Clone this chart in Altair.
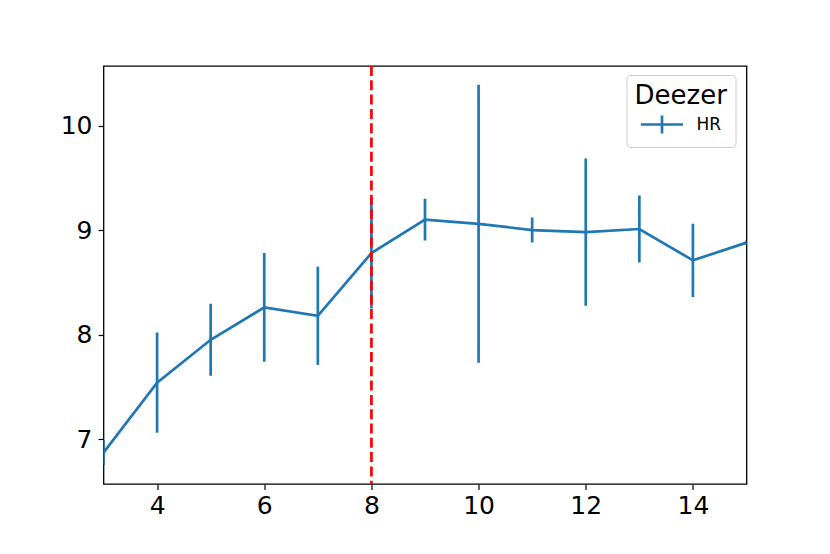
import altair as alt
import pandas as pd

# values
k_values = [3, 4, 5, 6, 7, 8, 9, 10, 11, 12, 13, 14, 15]
hr_mean = [6.87, 7.54, 7.95, 8.26, 8.18, 8.78, 9.10, 9.06, 9.00, 8.98, 9.01, 8.71, 8.88]
hr_err = [0.12, 0.48, 0.345, 0.52, 0.47, 0.53, 0.20, 1.33, 0.12, 0.705, 0.32, 0.35, 0.02]
series_name = ["HR"] * len(k_values)
x_ticks = [4, 6, 8, 10, 12, 14]
y_ticks = [7, 8, 9, 10]
cutoff = [8]

df = pd.DataFrame({"k": k_values, "hr": hr_mean, "err": hr_err, "series": series_name})
df["lo"] = df["hr"] - df["err"]
df["hi"] = df["hr"] + df["err"]

BLUE = "#1f77b4"
xscale = alt.Scale(domain=[3, 15], nice=False, zero=False)
yscale = alt.Scale(domain=[6.57, 10.57], nice=False, zero=False)
color = alt.Color(
    "series:N",
    scale=alt.Scale(domain=["HR"], range=[BLUE]),
    legend=alt.Legend(
        title="Deezer",
        orient="none",
        legendX=523,
        legendY=9,
        padding=8,
        titlePadding=7,
        titleLineHeight=24,
        symbolType="M-3,0H3M0,-1.3V1.3",
        symbolSize=196,
        symbolStrokeWidth=2.7,
        symbolFillColor="transparent",
        symbolOffset=19,
        labelOffset=26,
        labelFontSize=17,
    ),
)

xax = alt.Axis(values=x_ticks, title=None, grid=False, format="d")
yax = alt.Axis(values=y_ticks, title=None, grid=False, format="d")

base = alt.Chart(df)
line = base.mark_line(strokeWidth=2.7, clip=True).encode(
    x=alt.X("k:Q", scale=xscale, axis=xax),
    y=alt.Y("hr:Q", scale=yscale, axis=yax),
    color=color,
)
bars = base.mark_rule(strokeWidth=2.7, clip=True).encode(
    x=alt.X("k:Q", scale=xscale),
    y=alt.Y("lo:Q", scale=yscale),
    y2="hi:Q",
    color=color,
)
vline = alt.Chart(pd.DataFrame({"x": cutoff})).mark_rule(
    color="red", strokeWidth=2.7, strokeDash=[10, 4.3]
).encode(x=alt.X("x:Q", scale=xscale))

chart = (
    alt.layer(line, bars, vline)
    .properties(
        width=643,
        height=418,
        autosize=alt.AutoSizeParams(type="none"),
        padding={"left": 95.5, "top": 58, "right": 70, "bottom": 60},
    )
    .configure(font="DejaVu Sans")
    .configure_view(stroke="black", strokeWidth=1.3)
    .configure_axis(
        domain=False,
        tickColor="black",
        tickWidth=1.2,
        tickSize=5.5,
        labelColor="black",
        labelFontSize=25,
        labelFont="DejaVu Sans",
    )
    .configure_axisX(labelPadding=4)
    .configure_axisY(labelPadding=6)
    .configure_legend(
        titleFontSize=26,
        titleFont="DejaVu Sans",
        titleFontWeight="normal",
        titleColor="black",
        labelFont="DejaVu Sans",
        labelColor="black",
        strokeColor="#cccccc",
        fillColor="white",
        cornerRadius=4,
    )
)

chart.save("out.html", embed_options={"renderer": "svg", "actions": False})
